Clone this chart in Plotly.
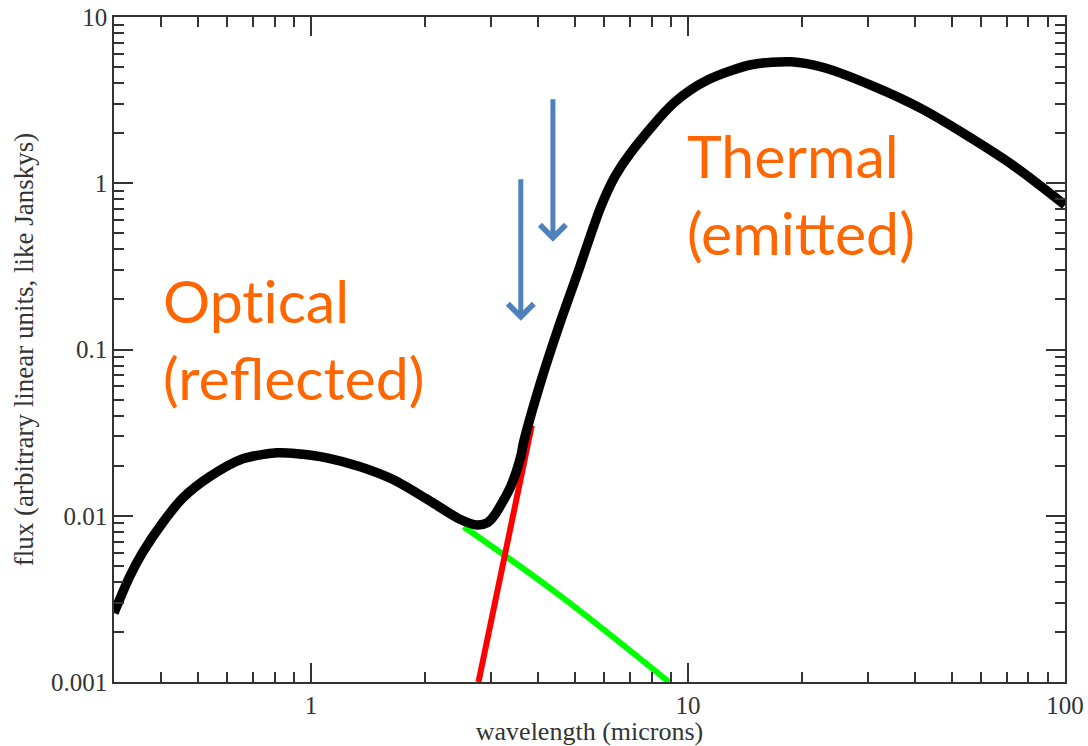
import math
import plotly.graph_objects as go

# ---- data ----
total_x = [0.3, 0.33, 0.357, 0.404, 0.457, 0.539, 0.659, 0.812, 0.918, 1.10, 1.35, 1.65,
           2.04, 2.49, 2.76, 2.94, 3.05, 3.38, 3.60, 3.66, 4.06, 4.51, 5.10, 5.87, 6.4, 7.05,
           9.18, 11.3, 14.7, 18.8, 23.0, 31.2, 41.7, 55.5, 73.6, 100]
total_y = [0.0026, 0.0043, 0.0060, 0.0091, 0.0128, 0.0172, 0.0220, 0.0239, 0.0236, 0.0223,
           0.0197, 0.0165, 0.0125, 0.0095, 0.0088, 0.0091, 0.0099, 0.0149, 0.0228, 0.0275,
           0.0631, 0.1315, 0.290, 0.722, 1.10, 1.53, 3.05, 4.19, 5.16, 5.38, 4.95, 3.81, 2.80,
           1.91, 1.26, 0.74]

reflected_x = [2.54, 4.5, 8.9]
reflected_y = [0.00859, 0.0034, 0.001]

thermal_x = [2.78, 3.3, 3.85]
thermal_y = [0.001, 0.0068, 0.035]

arrow_tip_x = [3.6, 4.38]
arrow_tip_y = [0.149, 0.445]
arrow_tail_y = [1.08, 3.27]

labels = ["Opt\u200cical<br>(reflected)", "Thermal<br>(emitted)"]
label_x = [0.399, 9.82]
label_y = [0.1161, 0.865]

x_ticks = [1, 10, 100]
y_ticks = [0.001, 0.01, 0.1, 1, 10]
y_ticktext = ["0.001", "0.01", "0.1", "1", "10"]

AX = "#333333"
SERIF = "Liberation Serif, Times New Roman, serif"

fig = go.Figure()
fig.add_trace(go.Scatter(x=reflected_x, y=reflected_y, mode="lines",
                         line=dict(color="#00ff00", width=6, shape="spline"), showlegend=False))
fig.add_trace(go.Scatter(x=thermal_x, y=thermal_y, mode="lines",
                         line=dict(color="#ff0000", width=6), showlegend=False))
fig.add_trace(go.Scatter(x=total_x, y=total_y, mode="lines",
                         line=dict(color="#000000", width=9.5, shape="spline", smoothing=0.8),
                         showlegend=False))

annotations = []
for tx, ty, tl in zip(arrow_tip_x, arrow_tip_y, arrow_tail_y):
    annotations.append(dict(
        x=math.log10(tx), y=math.log10(ty), xref="x", yref="y",
        ax=math.log10(tx), ay=math.log10(tl), axref="x", ayref="y",
        text="", showarrow=True, arrowhead=4, arrowsize=1.0, arrowwidth=5,
        arrowcolor="#4f81bd"))
for t, lx, ly in zip(labels, label_x, label_y):
    annotations.append(dict(
        x=math.log10(lx), y=math.log10(ly), xref="x", yref="y",
        text=t, showarrow=False, xanchor="left", yanchor="middle", align="left",
        font=dict(family="Lato, Open Sans, sans-serif", size=59, color="#ff6600")))

minor_common = dict(ticks="inside", ticklen=10, tickwidth=1.5, tickcolor=AX, showgrid=False)

fig.update_layout(
    width=1088, height=746,
    paper_bgcolor="white", plot_bgcolor="white",
    margin=dict(l=114, r=23, t=17, b=64),
    annotations=annotations,
    xaxis=dict(
        type="log", range=[math.log10(0.3), 2], automargin=False,
        tickvals=x_ticks, ticktext=[str(v) for v in x_ticks],
        ticks="inside", ticklen=19, tickwidth=1.5, tickcolor=AX,
        showline=True, linecolor=AX, linewidth=1.5, mirror="allticks",
        showgrid=False, zeroline=False,
        tickfont=dict(family=SERIF, size=25, color=AX),
        title=dict(text="wavelength (microns)", standoff=4,
                   font=dict(family=SERIF, size=26, color=AX)),
        minor=dict(dtick="D1", **minor_common),
    ),
    yaxis=dict(
        type="log", range=[-3, 1], automargin=False,
        tickvals=y_ticks, ticktext=y_ticktext,
        ticks="inside", ticklen=19, tickwidth=1.5, tickcolor=AX,
        showline=True, linecolor=AX, linewidth=1.5, mirror="allticks",
        showgrid=False, zeroline=False,
        tickfont=dict(family=SERIF, size=25, color=AX),
        title=dict(text="flux (arbitrary linear units, like Janskys)", standoff=10,
                   font=dict(family=SERIF, size=27, color=AX)),
        minor=dict(dtick="D1", **minor_common),
    ),
)

fig.write_html("out.html")
